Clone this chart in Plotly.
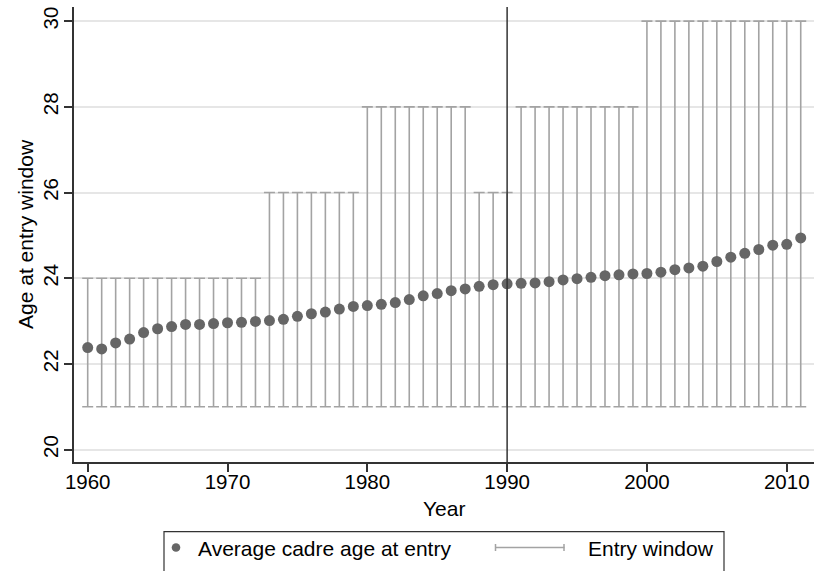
import plotly.graph_objects as go

years = list(range(1960, 2012))
avg_age = [22.38, 22.35, 22.49, 22.58, 22.73, 22.82, 22.87, 22.92, 22.92, 22.94,
           22.96, 22.97, 22.99, 23.01, 23.04, 23.11, 23.17, 23.21, 23.28, 23.34,
           23.36, 23.39, 23.43, 23.50, 23.59, 23.64, 23.71, 23.75, 23.81, 23.85,
           23.87, 23.88, 23.89, 23.92, 23.96, 23.99, 24.02, 24.06, 24.08, 24.10,
           24.11, 24.14, 24.20, 24.24, 24.28, 24.39, 24.49, 24.58, 24.67, 24.77,
           24.79, 24.94]
window_low = [21] * 52
window_high = ([24] * 13 + [26] * 7 + [28] * 8 + [26] * 3 + [28] * 9 + [30] * 12)
x_ticks = [1960, 1970, 1980, 1990, 2000, 2010]
y_ticks = [20, 22, 24, 26, 28, 30]

FONT = "Liberation Sans, Arial, Helvetica, sans-serif"
DOT = "#666666"
BAR = "#a3a3a3"
AX = "#333333"

W, H = 814, 571
L, R, T, B = 74, 0, 7, 109
PW, PH = W - L - R, H - T - B


def px(x):
    return (x - L) / PW


def py(y):
    return (H - B - y) / PH


fig = go.Figure()
fig.add_trace(go.Scatter(
    x=years, y=avg_age, mode="markers", name="Entry window",
    marker=dict(size=11, color="rgba(0,0,0,0)"),
    error_y=dict(type="data", symmetric=False,
                 array=[h - a for h, a in zip(window_high, avg_age)],
                 arrayminus=[a - l for a, l in zip(avg_age, window_low)],
                 color=BAR, thickness=1.6, width=5.5),
    showlegend=False, hoverinfo="skip"))
fig.add_trace(go.Scatter(
    x=years, y=avg_age, mode="markers", name="Average cadre age at entry",
    marker=dict(size=11, color=DOT), showlegend=False))

shapes = [
    dict(type="line", xref="x", yref="paper", x0=1990, x1=1990, y0=0, y1=1,
         line=dict(color=AX, width=1.5)),
    # legend box
    dict(type="rect", xref="paper", yref="paper", x0=px(164), x1=px(724),
         y0=py(531.7), y1=py(600), line=dict(color=AX, width=1.2),
         fillcolor="white"),
    dict(type="circle", xref="paper", yref="paper", xsizemode="pixel",
         ysizemode="pixel", xanchor=px(176), yanchor=py(547.5),
         x0=-4.3, x1=4.3, y0=-4.3, y1=4.3, fillcolor=DOT,
         line=dict(width=0)),
    dict(type="line", xref="paper", yref="paper", x0=px(495), x1=px(564.5),
         y0=py(547.5), y1=py(547.5), line=dict(color=BAR, width=1.5)),
    dict(type="line", xref="paper", yref="paper", x0=px(495.5), x1=px(495.5),
         y0=py(544), y1=py(551), line=dict(color=BAR, width=1.5)),
    dict(type="line", xref="paper", yref="paper", x0=px(564), x1=px(564),
         y0=py(544), y1=py(551), line=dict(color=BAR, width=1.5)),
]

annotations = [
    dict(text="Average cadre age at entry", xref="paper", yref="paper",
         x=px(196), y=py(548.5), xanchor="left", yanchor="middle",
         showarrow=False, font=dict(family=FONT, size=21, color="black")),
    dict(text="Entry window", xref="paper", yref="paper",
         x=px(585.5), y=py(548.5), xanchor="left", yanchor="middle",
         showarrow=False, font=dict(family=FONT, size=21, color="black")),
    # axis titles
    dict(text="Year", xref="paper", yref="paper",
         x=0.5, y=py(508), xanchor="center", yanchor="middle",
         showarrow=False, font=dict(family=FONT, size=21, color="black")),
    dict(text="Age at entry window", xref="paper", yref="paper",
         x=px(25.5), y=0.5, xanchor="center", yanchor="middle", textangle=-90,
         showarrow=False, font=dict(family=FONT, size=21, color="black")),
]

fig.update_layout(
    width=W, height=H,
    margin=dict(l=L, r=R, t=T, b=B, pad=0, autoexpand=False),
    paper_bgcolor="white", plot_bgcolor="white",
    font=dict(family=FONT, size=21, color="black"),
    shapes=shapes, annotations=annotations, showlegend=False,
    xaxis=dict(range=[1959.02, 2011.95], tickvals=x_ticks, automargin=False,
               ticks="outside", ticklen=8, tickwidth=1.5, tickcolor=AX,
               showline=True, linecolor=AX, linewidth=1.5,
               showgrid=False, zeroline=False, ticklabelstandoff=-7,
               tickfont=dict(family=FONT, size=20.5)),
    yaxis=dict(range=[19.71, 30.33], tickvals=y_ticks, tickangle=-90,
               automargin=False, ticklabelstandoff=-2,
               ticks="outside", ticklen=8, tickwidth=1.5, tickcolor=AX,
               showline=True, linecolor=AX, linewidth=1.5,
               showgrid=True, gridcolor="#e6e6e6", gridwidth=1.5,
               zeroline=False,
               tickfont=dict(family=FONT, size=20.5)),
)

fig.write_html("out.html", config={"displayModeBar": False},
               post_script="document.body.style.margin='0px';"
                           "document.body.style.overflow='hidden';")
